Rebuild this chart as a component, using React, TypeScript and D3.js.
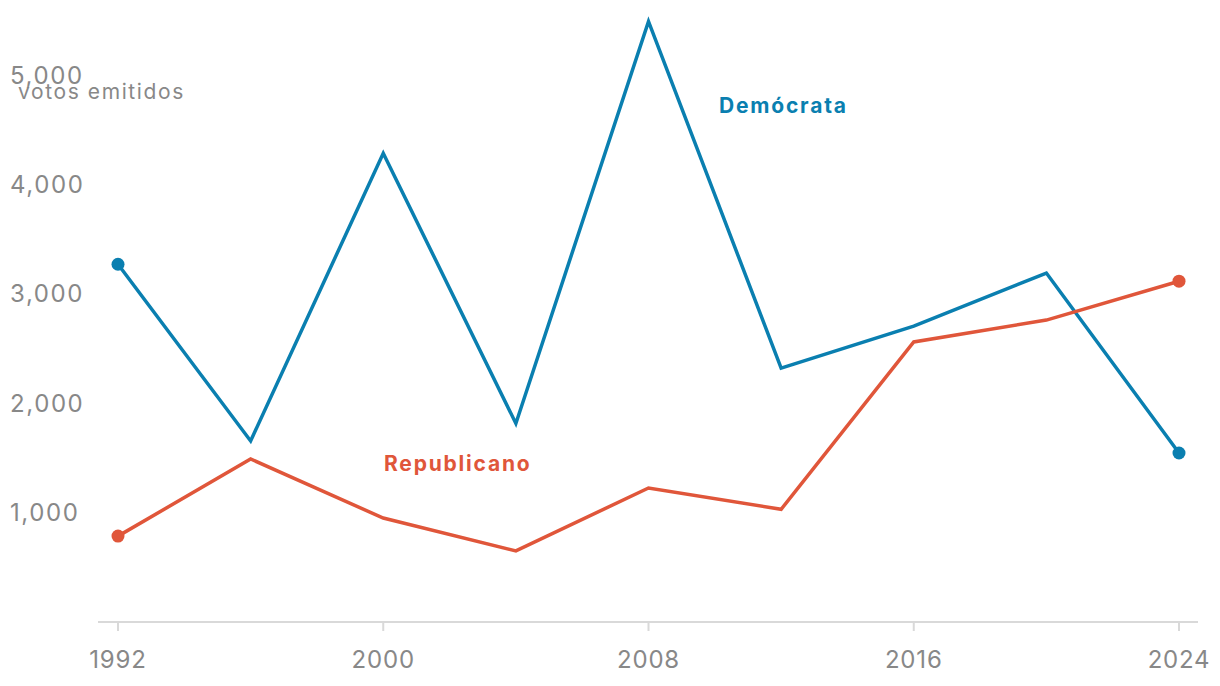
import React from "react";
import * as d3 from "d3";

const years = [1992, 1996, 2000, 2004, 2008, 2012, 2016, 2020, 2024];
const democrat = [3270, 1655, 4285, 1815, 5490, 2320, 2705, 3190, 1545];
const republican = [785, 1490, 950, 650, 1225, 1030, 2560, 2760, 3115];
const yTicks = [1000, 2000, 3000, 4000, 5000];
const xTicks = [1992, 2000, 2008, 2016, 2024];

const W = 1220;
const H = 686;
const BLUE = "#0a7fb0";
const RED = "#e0563a";
const GREY = "#888888";
const FONT = "Inter, 'Noto Sans', sans-serif";

export default function App() {
  const x = d3.scaleLinear().domain([1992, 2024]).range([118, 1179]);
  const y = d3.scaleLinear().domain([0, 5000]).range([622, 75]);
  const line = d3
    .line<number>()
    .x((_, i) => x(years[i]))
    .y((d) => y(d));

  const series = [
    { name: "Demócrata", values: democrat, color: BLUE, lx: 719, ly: 113 },
    { name: "Republicano", values: republican, color: RED, lx: 384, ly: 471 },
  ];

  return (
    <svg
      width={W}
      height={H}
      style={{ position: "absolute", left: 0, top: 0, background: "#fff" }}
      fontFamily={FONT}
    >
      {yTicks.map((t) => (
        <text key={t} x={10} y={y(t)} dy="0.36em" fontSize={24} letterSpacing={1.6} fill={GREY}>
          {d3.format(",")(t)}
        </text>
      ))}
      <text x={18} y={99} fontSize={21} letterSpacing={1.6} fill={GREY}>
        votos emitidos
      </text>
      <line x1={98} x2={1198} y1={622} y2={622} stroke="#d9d9d9" strokeWidth={2} />
      {xTicks.map((t) => (
        <g key={t}>
          <line x1={x(t)} x2={x(t)} y1={622} y2={631} stroke="#d9d9d9" strokeWidth={2} />
          <text x={x(t)} y={668} textAnchor="middle" fontSize={24} letterSpacing={0.8} fill={GREY}>
            {t}
          </text>
        </g>
      ))}
      {series.map((s) => (
        <g key={s.name}>
          <path d={line(s.values) || ""} fill="none" stroke={s.color} strokeWidth={3.5} strokeLinejoin="miter" />
          <circle cx={x(years[0])} cy={y(s.values[0])} r={6.5} fill={s.color} />
          <circle cx={x(years[years.length - 1])} cy={y(s.values[s.values.length - 1])} r={6.5} fill={s.color} />
          <text x={s.lx} y={s.ly} fontSize={21} fontWeight={700} letterSpacing={1.8} fill={s.color}>
            {s.name}
          </text>
        </g>
      ))}
    </svg>
  );
}
